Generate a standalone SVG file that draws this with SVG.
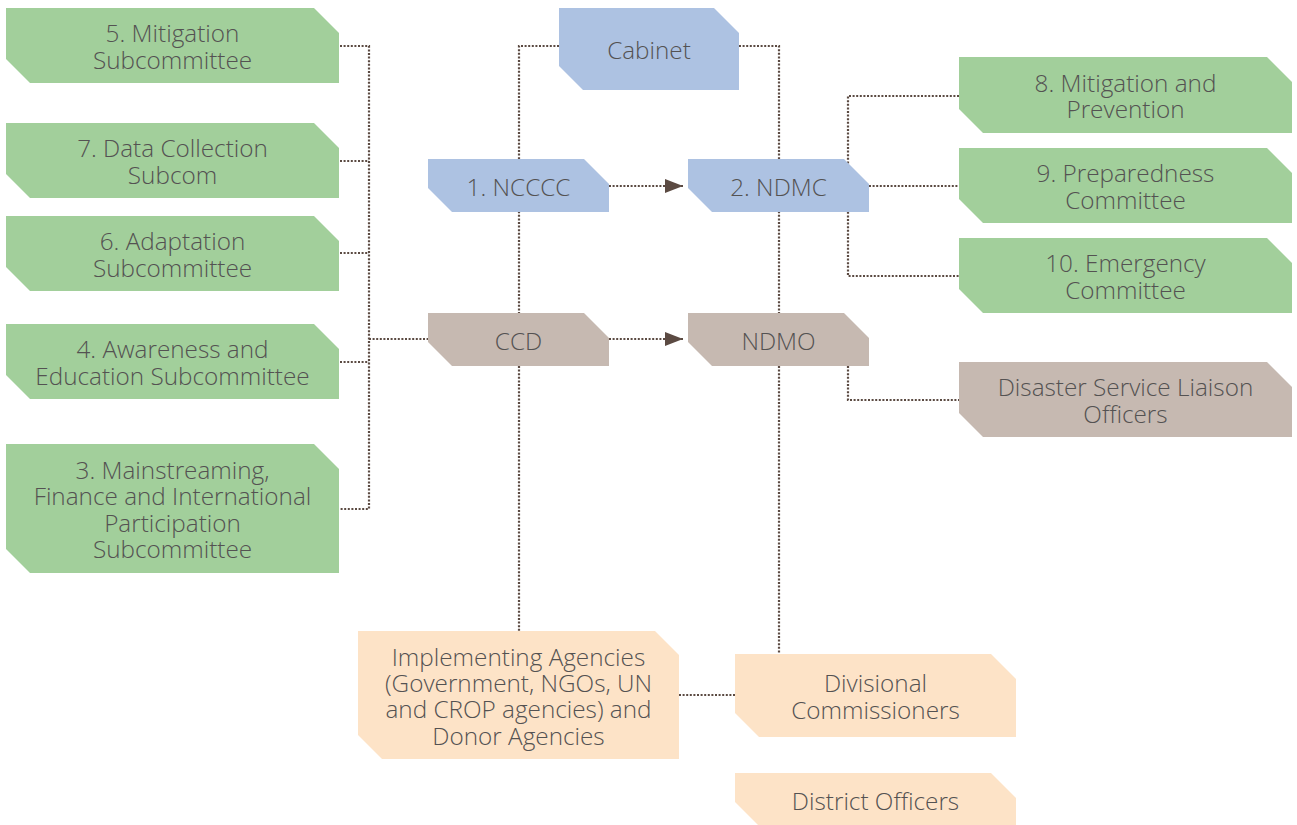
<svg xmlns="http://www.w3.org/2000/svg" width="1297" height="825" viewBox="0 0 1297 825">
<style>
.g{fill:#a2cf9b}.b{fill:#adc2e2}.t{fill:#c6b9b1}.p{fill:#fde3c7}
text{font-family:"Open Sans","Liberation Sans",sans-serif;font-weight:300;font-size:24.3px;fill:#545252;text-anchor:middle}
.c{fill:none;stroke:#5b4a42;stroke-width:2.2;stroke-dasharray:2 1.6}
</style>
<defs>
<marker id="ah" markerUnits="userSpaceOnUse" markerWidth="20" markerHeight="16" refX="18" refY="7" orient="auto">
<path d="M0,0 L18,7 L0,14 Z" fill="#5b4a42"/>
</marker>
</defs>
<g id="connectors">
<path class="c" d="M340,46 H369 V509 H340"/>
<path class="c" d="M340,161 H369"/>
<path class="c" d="M340,253 H369"/>
<path class="c" d="M340,362 H369"/>
<path class="c" d="M369,339 H428"/>
<path class="c" d="M559,46 H519 V631"/>
<path class="c" d="M739,46 H779 V654"/>
<path class="c" d="M959,96 H848 V276 H959"/>
<path class="c" d="M869,186 H959"/>
<path class="c" d="M848,366 V400 H959"/>
<path class="c" d="M679,695 H735"/>
<path class="c" d="M609,186 H683" marker-end="url(#ah)"/>
<path class="c" d="M609,339 H683" marker-end="url(#ah)"/>
</g>
<g id="n5"><path class="g" d="M6,8 H314 L339,33 V83 H30 L6,59 Z"/><text x="172.5" y="42.4">5. Mitigation</text><text x="172.5" y="68.7">Subcommittee</text></g>
<g id="n7"><path class="g" d="M6,123 H314 L339,148 V198 H30 L6,174 Z"/><text x="172.5" y="157.4">7. Data Collection</text><text x="172.5" y="183.7">Subcom</text></g>
<g id="n6"><path class="g" d="M6,216 H314 L339,241 V291 H30 L6,267 Z"/><text x="172.5" y="250.4">6. Adaptation</text><text x="172.5" y="276.7">Subcommittee</text></g>
<g id="n4"><path class="g" d="M6,324 H314 L339,349 V399 H30 L6,375 Z"/><text x="172.5" y="358.4">4. Awareness and</text><text x="172.5" y="384.7">Education Subcommittee</text></g>
<g id="n3"><path class="g" d="M6,444 H314 L339,469 V573 H30 L6,549 Z"/><text x="172.5" y="479">3. Mainstreaming,</text><text x="172.5" y="505.4">Finance and International</text><text x="172.5" y="531.7">Participation</text><text x="172.5" y="558">Subcommittee</text></g>
<g id="cabinet"><path class="b" d="M559,8 H714 L739,33 V90 H583 L559,66 Z"/><text x="649" y="59">Cabinet</text></g>
<g id="ncccc"><path class="b" d="M428,159 H584 L609,184 V212 H452 L428,188 Z"/><text x="518.5" y="195.5">1. NCCCC</text></g>
<g id="ndmc"><path class="b" d="M688,159 H844 L869,184 V212 H712 L688,188 Z"/><text x="778.5" y="195.5">2. NDMC</text></g>
<g id="ccd"><path class="t" d="M428,313 H584 L609,338 V366 H452 L428,342 Z"/><text x="518.5" y="349.5">CCD</text></g>
<g id="ndmo"><path class="t" d="M688,313 H844 L869,338 V366 H712 L688,342 Z"/><text x="778.5" y="349.5">NDMO</text></g>
<g id="n8"><path class="g" d="M959,57 H1267 L1292,82 V133 H983 L959,109 Z"/><text x="1125.5" y="91.9">8. Mitigation and</text><text x="1125.5" y="118.2">Prevention</text></g>
<g id="n9"><path class="g" d="M959,148 H1267 L1292,173 V223 H983 L959,199 Z"/><text x="1125.5" y="182.4">9. Preparedness</text><text x="1125.5" y="208.7">Committee</text></g>
<g id="n10"><path class="g" d="M959,238 H1267 L1292,263 V313 H983 L959,289 Z"/><text x="1125.5" y="272.4">10. Emergency</text><text x="1125.5" y="298.7">Committee</text></g>
<g id="dslo"><path class="t" d="M959,362 H1267 L1292,387 V437 H983 L959,413 Z"/><text x="1125.5" y="396.4">Disaster Service Liaison</text><text x="1125.5" y="422.7">Officers</text></g>
<g id="impl"><path class="p" d="M358,631 H655 L679,655 V759 H382 L358,735 Z"/><text x="518.5" y="665.5">Implementing Agencies</text><text x="518.5" y="691.8">(Government, NGOs, UN</text><text x="518.5" y="718.1">and CROP agencies) and</text><text x="518.5" y="744.5">Donor Agencies</text></g>
<g id="div"><path class="p" d="M735,654 H991 L1016,679 V737 H759 L735,713 Z"/><text x="875.5" y="692.4">Divisional</text><text x="875.5" y="718.7">Commissioners</text></g>
<g id="dist"><path class="p" d="M735,773 H991 L1016,798 V826 H759 L735,802 Z"/><text x="875.5" y="809.5">District Officers</text></g>
</svg>
